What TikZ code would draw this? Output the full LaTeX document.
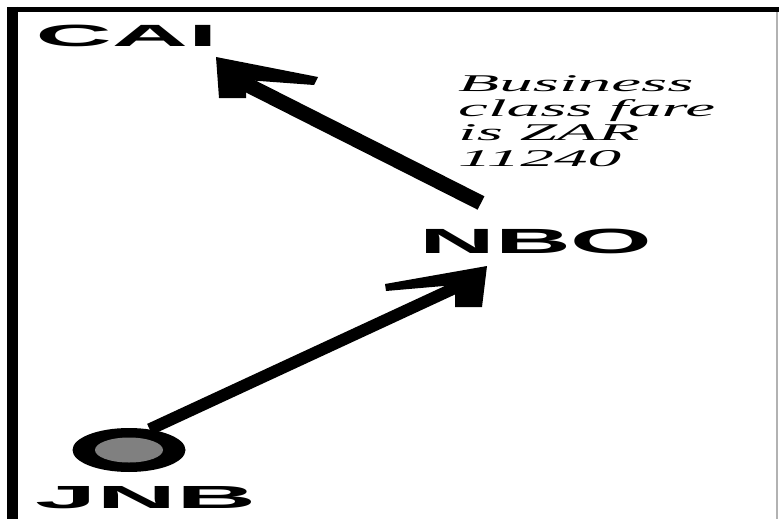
\documentclass[tikz,border=0pt]{standalone}
\usepackage{graphicx}
\usepackage{fontspec}
\usetikzlibrary{shapes.geometric}
\setmainfont{Liberation Serif}
\newfontfamily\codefont{Liberation Sans}
\tikzset{
  code/.style={inner sep=0pt, anchor=base west},
  fare/.style={inner sep=0pt, anchor=base west},
  shaft/.style={line width=#1, line cap=butt},
  head/.style={fill=black, draw=none},
}
\newcommand{\codelabel}[3]{\scalebox{#1}[1]{\fontsize{#2}{#2}\selectfont\codefont\bfseries #3}}
\newcommand{\farelabel}[1]{\scalebox{2.8}[1]{\fontsize{24}{24}\selectfont\itshape #1}}
\begin{document}
\begin{tikzpicture}[x=1pt,y=-1pt]
\useasboundingbox (0,0) rectangle (779,519);
% frame
\draw[line width=5pt] (7,9.5) -- (779,9.5);
\draw[line width=11pt] (12.5,7) -- (12.5,519);
\draw[line width=2pt, draw=black!30] (777,12) -- (777,519);
% labels
\node[code] (cai) at (35.5,47) {\codelabel{3.44}{30.7}{CAI}};
\node[code] (nbo) at (419,253) {\codelabel{3.0}{35}{NBO}};
\node[code] (jnb) at (35,508) {\codelabel{3.45}{32}{JNB}};
\node[fare] (f1) at (458,92) {\farelabel{Business}};
\node[fare] (f2) at (458,116) {\farelabel{class fare}};
\node[fare] (f3) at (458,140) {\farelabel{is ZAR}};
\node[fare] (f4) at (458,166) {\farelabel{11240}};
% JNB marker
\node[fill=black, ellipse, minimum width=113pt, minimum height=44pt,
      inner sep=0pt] (jnbdot) at (129,450) {};
\fill[black!50] (jnbdot.center) ellipse [x radius=34, y radius=12.5];
% connector coordinates
\coordinate (a1start) at (481,203);
\coordinate (a1end) at (232,77);
\coordinate (a2end) at (472,280);
% arrow NBO -> CAI
\draw[shaft=15pt] (a1start) -- (a1end);
\fill[head] (216,57) -- (318,77) -- (314,85) -- (246,80) -- (246,98) -- (219,98) -- cycle;
% arrow JNB -> NBO
\draw[shaft=12pt] (jnbdot.45) -- (a2end);
\fill[head] (487,266) -- (482,307) -- (455,307) -- (455,285) -- (386,291) -- (385,284) -- cycle;
\end{tikzpicture}
\end{document}
